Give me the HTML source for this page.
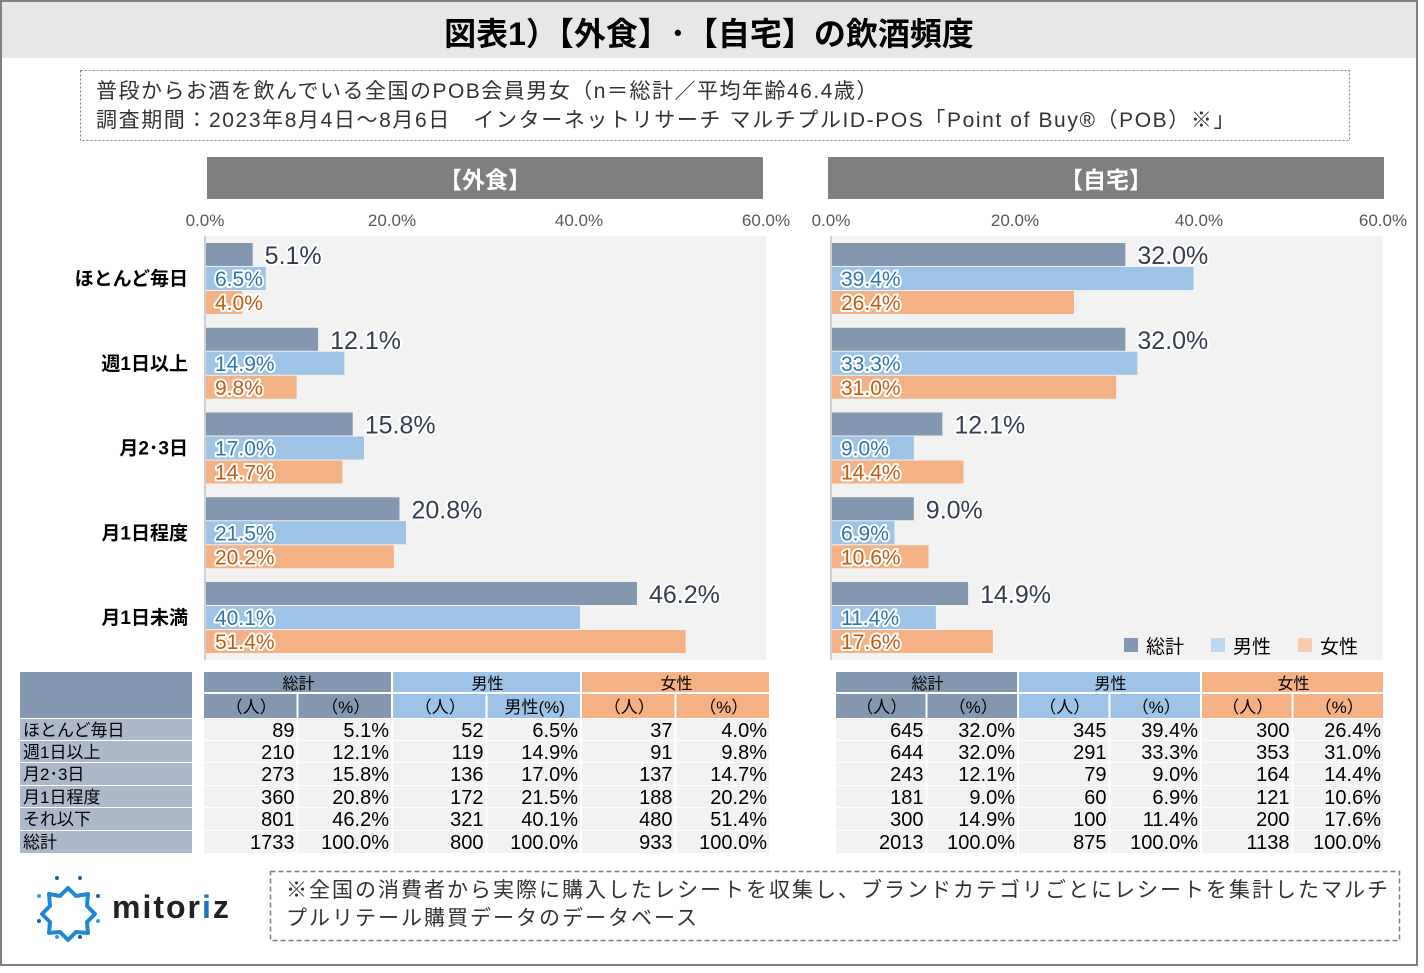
<!DOCTYPE html>
<html><head><meta charset="utf-8">
<style>
html,body{margin:0;padding:0;background:#fff;}
body{width:1424px;height:968px;overflow:hidden;font-family:"Liberation Sans","Noto Sans CJK JP",sans-serif;}
svg text{font-family:"Liberation Sans","Noto Sans CJK JP",sans-serif;}
.halo{paint-order:stroke;stroke:#fff;stroke-width:4px;stroke-linejoin:round;}
</style></head>
<body>
<svg id="main" width="1424" height="968" viewBox="0 0 1424 968" xmlns="http://www.w3.org/2000/svg">
  <rect x="1" y="1" width="1416" height="964" fill="#fff" stroke="#7f7f7f" stroke-width="2"/>
  <rect x="2" y="2" width="1414" height="56" fill="#e7e7e7"/>
  <text x="709" y="45" text-anchor="middle" font-size="32" font-weight="bold" fill="#000">図表1）【外食】･【自宅】の飲酒頻度</text>
  <rect x="80.5" y="70.5" width="1269" height="70" fill="none" stroke="#7f7f7f" stroke-dasharray="2,2"/>
  <text x="96" y="98" font-size="21" fill="#333" letter-spacing="1.5">普段からお酒を飲んでいる全国のPOB会員男女（n＝総計／平均年齢46.4歳）</text>
  <text x="96" y="127" font-size="21" fill="#333" letter-spacing="1.6">調査期間：2023年8月4日～8月6日　インターネットリサーチ マルチプルID-POS「Point of Buy®（POB）※」</text>
  <g id="charts"></g>
  <g id="tables"></g>
  <g>
    <polygon points="68,888 76,896 88,894 87,906 95,914 87,922 88,933 76,932 68,940 60,932 49,933 50,922 42,914 50,906 49,894 60,896" fill="none" stroke="#1e88d8" stroke-width="4" stroke-linejoin="round"/>
    <circle cx="57" cy="878" r="2" fill="#1b5fa8"/><circle cx="80" cy="878" r="2" fill="#1b5fa8"/>
    <circle cx="39" cy="896" r="2" fill="#2aa3e0"/><circle cx="98" cy="896" r="2" fill="#1b5fa8"/>
    <circle cx="39" cy="921" r="2" fill="#1b5fa8"/><circle cx="98" cy="921" r="2" fill="#2aa3e0"/>
    <circle cx="57" cy="937" r="2" fill="#2aa3e0"/><circle cx="80" cy="937" r="2" fill="#1b5fa8"/>
    <text x="112" y="918" font-size="32" font-weight="bold" fill="#222" letter-spacing="2">mitor<tspan fill="#1e6fc0">i</tspan>z</text>
  </g>
  <rect x="270.5" y="871.5" width="1129" height="69" fill="none" stroke="#7f7f7f" stroke-width="1.5" stroke-dasharray="5,3"/>
  <text x="286" y="897" font-size="21" fill="#333" letter-spacing="2">※全国の消費者から実際に購入したレシートを収集し、ブランドカテゴリごとにレシートを集計したマルチ</text>
  <text x="286" y="925" font-size="21" fill="#333" letter-spacing="2">プルリテール購買データのデータベース</text>
</svg>
<script>
const categories = ["ほとんど毎日","週1日以上","月2･3日","月1日程度","月1日未満"];
const tableRowLabels = ["ほとんど毎日","週1日以上","月2･3日","月1日程度","それ以下","総計"];
const gaishokuTotal = [5.1,12.1,15.8,20.8,46.2];
const gaishokuMale  = [6.5,14.9,17.0,21.5,40.1];
const gaishokuFemale= [4.0,9.8,14.7,20.2,51.4];
const jitakuTotal = [32.0,32.0,12.1,9.0,14.9];
const jitakuMale  = [39.4,33.3,9.0,6.9,11.4];
const jitakuFemale= [26.4,31.0,14.4,10.6,17.6];
const tickValues = [0,20,40,60];
const gaishokuCountTotal = [89,210,273,360,801,1733];
const gaishokuCountMale  = [52,119,136,172,321,800];
const gaishokuCountFemale= [37,91,137,188,480,933];
const jitakuCountTotal = [645,644,243,181,300,2013];
const jitakuCountMale  = [345,291,79,60,100,875];
const jitakuCountFemale= [300,353,164,121,200,1138];

const NS="http://www.w3.org/2000/svg";
const C={t:"#8497b0",m:"#9dc3e6",f:"#f4b183"};
function mk(tag,attrs,parent,txt){const e=document.createElementNS(NS,tag);for(const k in attrs)e.setAttribute(k,attrs[k]);if(txt!==undefined)e.textContent=txt;parent.appendChild(e);return e;}

const charts=document.getElementById('charts');
function drawChart(x0,x60,headX,title,tot,mal,fem,key){
  const g=mk('g',{},charts);
  
  
  const sx=v=>x0+(x60-x0)*v/60;
  const head=mk('rect',{x:headX,y:157,width:556,height:42,fill:'#7f7f7f'},g);
  
  
  const ht=mk('text',{x:headX+278,y:188,'text-anchor':'middle','font-size':23,'font-weight':'bold',fill:'#fff'},g,title);
  
  
  const bg=mk('rect',{x:x0,y:236,width:x60-x0,height:424,fill:'#f2f2f2'},g);
  
  
  const ax=mk('line',{x1:x0,y1:236,x2:x0,y2:660,stroke:'#d0d0d0','stroke-width':2},g);
  
  
  tickValues.forEach(v=>{
    const t=mk('text',{x:sx(v),y:226,'text-anchor':'middle','font-size':17,fill:'#595959'},g,v.toFixed(1)+'%');
    
    
  });
  const pitch=84.75, bh=23;
  categories.forEach((c,i)=>{
    const y=243+i*pitch;
    if(key==='gaishoku'){
      const cl=mk('text',{x:188,y:y+42,'text-anchor':'end','font-size':19,'font-weight':'bold',fill:'#000'},g,c);
      
      
    }
    [[tot,C.t,'total'],[mal,C.m,'male'],[fem,C.f,'female']].forEach(([arr,col,s],j)=>{
      const by=y+j*24;
      const r=mk('rect',{x:x0+1,y:by,width:sx(arr[i])-x0-1,height:bh,fill:col},g);
      
      
      let t;
      if(j===0){
        t=mk('text',{x:sx(arr[i])+12,y:by+21,'font-size':25,fill:'#333f50','class':'halo'},g,arr[i].toFixed(1)+'%');
      }else{
        t=mk('text',{x:x0+10,y:by+19,'font-size':21,fill:j===1?'#2e75b6':'#c55a11','class':'halo'},g,arr[i].toFixed(1)+'%');
      }
      
      
    });
  });
}
drawChart(205,766,207,'【外食】',gaishokuTotal,gaishokuMale,gaishokuFemale,'gaishoku');
drawChart(831,1383,828,'【自宅】',jitakuTotal,jitakuMale,jitakuFemale,'jitaku');

[['総計',C.t,1124],['男性','#bdd7ee',1211],['女性','#f8cbad',1298]].forEach(([l,c,x])=>{
  const r=mk('rect',{x:x,y:638,width:14,height:14,fill:c},charts);
  
  
  const t=mk('text',{x:x+22,y:653,'font-size':19,fill:'#000'},charts,l);
  
  
});

const tables=document.getElementById('tables');
const rowY=[719,741,763,786,808,831], rowH=[21,21,22,21,22,22];
const lh=mk('rect',{x:20,y:672,width:172,height:46,fill:'#8497b0'},tables);


tableRowLabels.forEach((l,i)=>{
  const r=mk('rect',{x:20,y:rowY[i],width:172,height:rowH[i],fill:'#adb9ca'},tables);
  
  
  const t=mk('text',{x:23,y:rowY[i]+17,'font-size':17,fill:'#000'},tables,l);
  
  
});
function drawTable(x0,w,cnt,key,pctHeadMale){
  const groups=[['総計',C.t,cnt[0]],['男性',C.m,cnt[1]],['女性',C.f,cnt[2]]];
  groups.forEach(([name,col,arr],gi)=>{
    const gx=x0+gi*2*w;
    const h=mk('rect',{x:gx,y:672,width:2*w-2,height:20,fill:col},tables);
    
    
    const ht=mk('text',{x:gx+w,y:689,'text-anchor':'middle','font-size':16,fill:'#000'},tables,name);
    
    
    const total=arr[arr.length-1];
    ['（人）',(gi===1&&pctHeadMale)?'男性(%)':'（%）'].forEach((s,si)=>{
      const r=mk('rect',{x:gx+si*w,y:694,width:w-2,height:24,fill:col},tables);
      
      
      const t=mk('text',{x:gx+si*w+w/2,y:713,'text-anchor':'middle','font-size':17,fill:'#000'},tables,s);
      
      
    });
    arr.forEach((v,i)=>{
      for(let si=0;si<2;si++){
        const r=mk('rect',{x:gx+si*w,y:rowY[i],width:w-2,height:rowH[i],fill:'#f2f2f2'},tables);
        
        
        const txt=si===0?String(v):(v/total*100).toFixed(1)+'%';
        const t=mk('text',{x:gx+si*w+w-4,y:rowY[i]+18,'text-anchor':'end','font-size':20,fill:'#000'},tables,txt);
        
        
      }
    });
  });
}
drawTable(204,94.5,[gaishokuCountTotal,gaishokuCountMale,gaishokuCountFemale],'gaishoku',true);
drawTable(836,91.5,[jitakuCountTotal,jitakuCountMale,jitakuCountFemale],'jitaku',false);
</script>
</body></html>
